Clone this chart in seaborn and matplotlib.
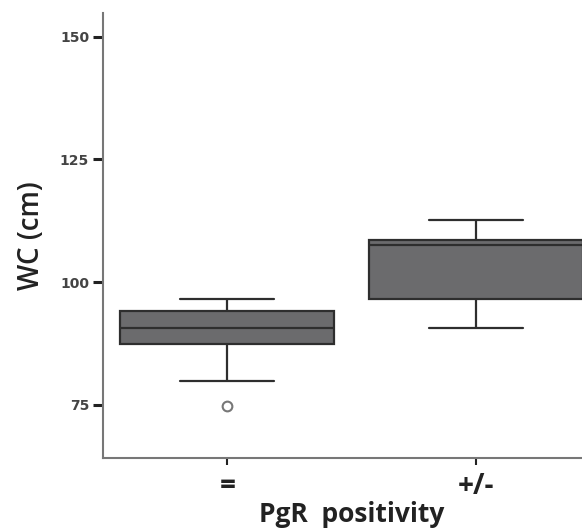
import pandas as pd
import matplotlib.pyplot as plt
import seaborn as sns

# 그룹별 값 (그림에서 읽은 사분위/수염/이상치 값)
group_neg = [74.8, 79.8, 87.4, 87.4, 90.7, 94.15, 94.15, 96.6, 96.6]
group_pos = [90.7, 96.6, 107.5, 108.5, 112.7]
categories = ['=', '+/-']
y_ticks = [75, 100, 125, 150]

df = pd.DataFrame({
    'PgR': [categories[0]] * len(group_neg) + [categories[1]] * len(group_pos),
    'WC': group_neg + group_pos,
})

sns.set_style('white')
plt.rcParams['font.family'] = ['Open Sans', 'DejaVu Sans']

fig = plt.figure(figsize=(5.82, 5.32), dpi=100)
ax = fig.add_axes([0.177, 0.139, 0.854, 0.836])

sns.boxplot(data=df, x='PgR', y='WC', order=categories, ax=ax,
            width=0.86, color='#6b6b6d', linecolor='#2e2e2e', linewidth=1.6,
            saturation=1, capwidths=0.38,
            flierprops=dict(marker='o', markersize=7, markerfacecolor='white',
                            markeredgecolor='#777777', markeredgewidth=1.5))

ax.set_xlim(-0.5, 1.5)
ax.set_ylim(64.1, 154.8)
ax.set_yticks(y_ticks)
ax.set_yticklabels([str(t) for t in y_ticks],
                   family=['Liberation Sans Narrow', 'DejaVu Sans'],
                   fontsize=10, fontweight='bold', color='#444444')
ax.set_xticklabels(categories, fontsize=20, fontweight='bold', color='#222222')
ax.tick_params(axis='y', length=7, width=2.2, color='#222222', pad=3, left=True)
ax.tick_params(axis='x', length=5, width=1.5, color='#222222', pad=5, bottom=True)

sns.despine(ax=ax)
for side in ['left', 'bottom']:
    ax.spines[side].set_color('#777777')
    ax.spines[side].set_linewidth(1.5)

ax.set_ylabel('WC (cm)', fontsize=20, fontweight='semibold', color='#222222', labelpad=10)
ax.set_xlabel('PgR  positivity', fontsize=19, fontweight='bold', color='#222222', labelpad=0)

fig.savefig('out.png', dpi=100)
